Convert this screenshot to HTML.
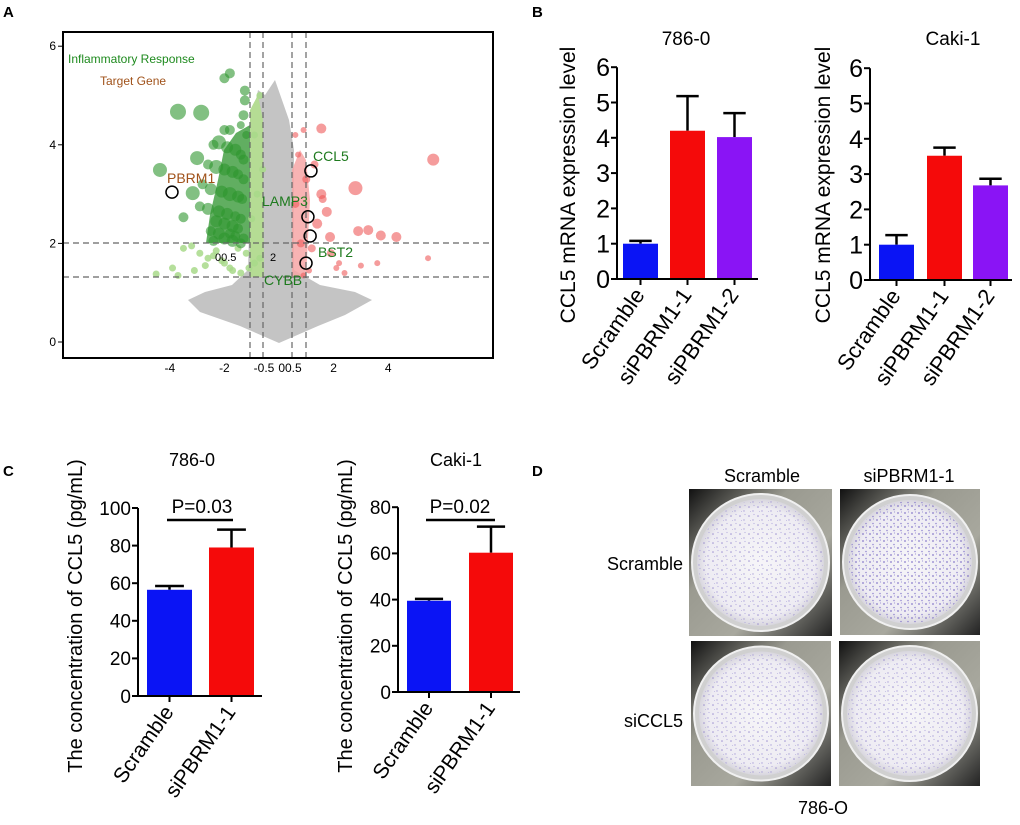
<!DOCTYPE html>
<html><head><meta charset="utf-8"><style>
html,body{margin:0;padding:0;background:#fff;}
svg{display:block;font-family:"Liberation Sans",Arial,sans-serif;}
</style></head><body>
<svg id="fig" width="1020" height="825" viewBox="0 0 1020 825" xmlns="http://www.w3.org/2000/svg">
<defs>
<radialGradient id="dish" cx="50%" cy="50%" r="50%"><stop offset="0" stop-color="#f6f5f8"/><stop offset="0.85" stop-color="#eeecf3"/><stop offset="1" stop-color="#d8d6de"/></radialGradient>
<linearGradient id="metal" x1="0" y1="0" x2="1" y2="1"><stop offset="0" stop-color="#111"/><stop offset="0.35" stop-color="#9a9a90"/><stop offset="0.65" stop-color="#a8a89e"/><stop offset="1" stop-color="#222"/></linearGradient>
<pattern id="cells" width="9" height="9" patternUnits="userSpaceOnUse">
<circle cx="2" cy="3" r="0.8" fill="#8a7cc8"/><circle cx="6" cy="7" r="0.7" fill="#9a8ed2"/><circle cx="7" cy="1.5" r="0.6" fill="#a79ed8"/><circle cx="3.5" cy="7.5" r="0.5" fill="#b0a8dc"/>
</pattern>
<pattern id="cells2" width="7" height="7" patternUnits="userSpaceOnUse">
<circle cx="2" cy="2" r="0.9" fill="#6f5fc0"/><circle cx="5" cy="5.5" r="0.8" fill="#7e70c8"/><circle cx="5.5" cy="1" r="0.6" fill="#9488d2"/>
</pattern>
</defs>
<g id="panelA"></g>
<g id="panelB"></g>
<g id="panelC"></g>
<g id="panelD"></g>
</svg>
<script>
// Panel A data
const greenFC = [-3.7,-2.85,-4.36,-3.0,-3.16,-3.5,-2.0,-1.8,-1.25,-1.25,-1.3,-1.4,-2.0,-1.8,-1.2,-2.4,-2.2,-1.9,-1.6,-1.4,-1.3,-2.6,-2.3,-2.0,-1.7,-1.5,-1.3,-2.8,-2.5,-2.1,-1.8,-1.5,-1.35,-2.9,-2.6,-2.2,-1.9,-1.6,-1.4,-2.3,-2.0,-1.7,-1.5,-2.5,-2.2,-1.8,-1.6,-1.3,-2.4,-2.0,-1.7,-1.4];
const greenP  = [4.67,4.65,3.49,3.73,3.02,2.53,5.35,5.45,5.1,4.9,4.6,4.4,4.3,4.3,4.2,4.0,4.05,3.95,3.9,3.8,3.7,3.6,3.55,3.5,3.45,3.4,3.3,3.2,3.1,3.05,3.0,2.95,2.9,2.75,2.7,2.65,2.6,2.55,2.5,2.45,2.4,2.35,2.3,2.25,2.2,2.2,2.15,2.1,2.05,2.1,2.05,2.0];
const greenSize = [8,8,7,7,7,5,5,5,5,5,5,4,5,5,4,5,7,6,6,5,5,5,7,6,6,5,5,5,6,6,7,6,5,5,6,6,6,5,5,6,6,6,5,5,6,5,5,5,5,6,6,5];
const lgFC = [-4.5,-3.9,-3.5,-3.2,-2.9,-2.6,-2.3,-2.0,-1.7,-1.4,-3.7,-3.1,-2.7,-2.4,-2.1,-1.8,-1.5,-1.2,-1.1,-0.9,-0.7,-1.0,-0.8,-0.6,-0.9,-0.7];
const lgP   = [1.38,1.5,1.9,1.95,1.8,1.7,1.85,1.6,1.45,1.4,1.35,1.45,1.55,1.75,1.65,1.5,1.9,1.8,1.5,1.6,1.7,2.5,3.0,3.5,4.2,5.0];
const redFC = [1.55,5.65,2.8,1.55,1.75,2.9,3.27,3.73,4.3,1.87,5.46,3.6,0.6,0.9,1.3,1.6,2.1,2.4,0.7,1.0,1.4,0.8,1.2,1.9,2.2,0.6,1.1,3.0,0.9];
const redP  = [4.33,3.7,3.12,3.0,2.64,2.25,2.27,2.16,2.13,2.13,1.7,1.6,4.2,4.3,3.6,2.9,1.5,1.4,3.8,3.3,2.4,2.0,1.9,1.8,1.6,2.8,1.45,1.55,1.35];
const redSize = [5,6,7,5,5,5,5,5,5,5,3,3,3,3,4,4,3,3,3,4,5,4,4,4,3,4,3,3,3];
const geneNames = ["PBRM1","CCL5","LAMP3","BST2","CYBB"];
const geneFC = [-3.92,1.17,1.06,1.14,0.99];
const geneP = [3.04,3.47,2.54,2.15,1.6];
const xTicksA = [-4,-2,2,4];
const yTicksA = [0,2,4,6];
// Panel B data
const catsB = ["Scramble","siPBRM1-1","siPBRM1-2"];
const vals786B = [1.0,4.2,4.02];
const err786B = [0.08,0.98,0.68];
const valsCakiB = [1.0,3.52,2.68];
const errCakiB = [0.27,0.23,0.19];
const yTicksB = [0,1,2,3,4,5,6];
// Panel C data
const catsC = ["Scramble","siPBRM1-1"];
const vals786C = [56.5,79];
const err786C = [2,9.5];
const valsCakiC = [39.5,60.3];
const errCakiC = [0.8,11.3];
const yTicks786C = [0,20,40,60,80,100];
const yTicksCakiC = [0,20,40,60,80];

const NS="http://www.w3.org/2000/svg";
function mk(parent,tag,attrs,text){const e=document.createElementNS(NS,tag);for(const k in attrs)e.setAttribute(k,attrs[k]);if(text!==undefined)e.textContent=text;parent.appendChild(e);return e;}

// ---------- Panel A ----------
const A=document.getElementById('panelA');
const ax=v=>279+v*27.3, ay=v=>342-v*49.3;
let t=mk(A,'text',{x:3,y:17,'font-size':15,'font-weight':'bold'},'A');

let cloud=mk(A,'path',{d:'M279 343 L240 326 L200 312 L188 300 L205 292 L232 285 L248 270 L252 120 L258 90 L265 95 L275 80 L282 100 L289 120 L294 150 L294 270 L320 285 L355 292 L372 300 L345 315 L318 326 Z',fill:'#c4c4c4'});

let lgband=mk(A,'path',{d:'M250 277 L250 110 L258 95 L263 120 L264 277 Z',fill:'#b5dc94'});

let rband=mk(A,'path',{d:'M292 277 L292 170 L300 150 L306 160 L310 200 L306 277 Z',fill:'#f7a6a6',opacity:0.85});

let gband=mk(A,'path',{d:'M206 243 L210 215 L218 180 L224 150 L236 133 L250 125 L250 243 Z',fill:'#3a9a3a',opacity:0.8});

lgFC.forEach((f,i)=>{const c=mk(A,'circle',{cx:ax(f),cy:ay(lgP[i]),r:3.5,fill:'#a8d98a',opacity:0.85});
});
greenFC.forEach((f,i)=>{const c=mk(A,'circle',{cx:ax(f),cy:ay(greenP[i]),r:greenSize[i],fill:'#2f962f',opacity:0.6});
});
redFC.forEach((f,i)=>{const c=mk(A,'circle',{cx:ax(f),cy:ay(redP[i]),r:redSize[i],fill:'#ef5a5a',opacity:0.6});
});
[250,263,292,306].forEach(x=>{const l=mk(A,'line',{x1:x,y1:32,x2:x,y2:358,stroke:'#666','stroke-dasharray':'6,4','stroke-width':1.2});
});
[243,277].forEach(y=>{const l=mk(A,'line',{x1:63,y1:y,x2:493,y2:y,stroke:'#666','stroke-dasharray':'6,4','stroke-width':1.2});
});
const labPos=[[167,183,'#a0521a'],[313,161,'#1e7a1e'],[262,206,'#1e7a1e'],[318,257,'#1e7a1e'],[264,285,'#1e7a1e']];
geneNames.forEach((g,i)=>{const c=mk(A,'circle',{cx:ax(geneFC[i]),cy:ay(geneP[i]),r:6,fill:'none',stroke:'#000','stroke-width':1.5});

const tx=mk(A,'text',{x:labPos[i][0],y:labPos[i][1],'font-size':14,fill:labPos[i][2]},g);
});
let tt=mk(A,'text',{x:215,y:261,'font-size':11},'00.5');
tt=mk(A,'text',{x:270,y:261,'font-size':11},'2');
tt=mk(A,'text',{x:68,y:63,'font-size':12,fill:'#1e8a1e'},'Inflammatory Response');
tt=mk(A,'text',{x:100,y:85,'font-size':12,fill:'#a0521a'},'Target Gene');
let box=mk(A,'rect',{x:63,y:32,width:430,height:326,fill:'none',stroke:'#000','stroke-width':2});

yTicksA.forEach(v=>{const l=mk(A,'line',{x1:58,y1:ay(v),x2:63,y2:ay(v),stroke:'#000'});
const tx=mk(A,'text',{x:56,y:ay(v)+4,'font-size':12,'text-anchor':'end'},String(v));});
xTicksA.forEach(v=>{const tx=mk(A,'text',{x:ax(v),y:372,'font-size':12,'text-anchor':'middle'},String(v));});
tt=mk(A,'text',{x:264,y:372,'font-size':12,'text-anchor':'middle'},'-0.5');
tt=mk(A,'text',{x:290,y:372,'font-size':12,'text-anchor':'middle'},'00.5');

// ---------- bar chart helper ----------
const colors=['#0a14f5','#f50a0a','#8a14f5'];
function bars(G,o){
  const sy=v=>o.y0-v*o.k;
  const title=mk(G,'text',{x:o.tx,y:o.ty,'font-size':o.tfs,'text-anchor':'middle'},o.title);
  
  o.vals.forEach((v,i)=>{
    const x=o.bx[i], cx=x+o.bw/2;
    const e1=mk(G,'line',{x1:cx,y1:sy(v),x2:cx,y2:sy(v+o.err[i]),stroke:'#000','stroke-width':2.5});
    
    const e2=mk(G,'line',{x1:cx-o.bw*0.32,y1:sy(v+o.err[i]),x2:cx+o.bw*0.32,y2:sy(v+o.err[i]),stroke:'#000','stroke-width':2.5});
    
    const r=mk(G,'rect',{x:x,y:sy(v),width:o.bw,height:v*o.k,fill:colors[i]});
    
    const tk=mk(G,'line',{x1:cx,y1:o.y0,x2:cx,y2:o.y0+6,stroke:'#000','stroke-width':2});
    
    const lx=cx+5, ly=o.y0+16;
    const lb=mk(G,'text',{x:lx,y:ly,'font-size':o.cfs,'text-anchor':'end',transform:`rotate(-55 ${lx} ${ly})`},o.cats[i]);
    
  });
  const ya=mk(G,'line',{x1:o.ax,y1:sy(o.ticks[o.ticks.length-1]),x2:o.ax,y2:o.y0,stroke:'#000','stroke-width':2});
  
  const xa=mk(G,'line',{x1:o.ax,y1:o.y0,x2:o.xend,y2:o.y0,stroke:'#000','stroke-width':2});
  
  o.ticks.forEach(v=>{const l=mk(G,'line',{x1:o.ax-6,y1:sy(v),x2:o.ax,y2:sy(v),stroke:'#000','stroke-width':2});
    
    const tx=mk(G,'text',{x:o.ax-7,y:sy(v)+o.yfs*0.36,'font-size':o.yfs,'text-anchor':'end'},String(v));
    });
  const yt=mk(G,'text',{x:o.ylx,y:o.yly,'font-size':o.ylfs,'text-anchor':'middle',transform:`rotate(-90 ${o.ylx} ${o.yly})`},o.ylab);
  
}
const B=document.getElementById('panelB');
t=mk(B,'text',{x:532,y:17,'font-size':15,'font-weight':'bold'},'B');
bars(B,{title:'786-0',tx:686,ty:45,tfs:19,vals:vals786B,err:err786B,cats:catsB,bx:[623,670,717],bw:35,y0:279,k:35.3,ax:617,xend:758,ticks:yTicksB,yfs:25,cfs:22,ylab:'CCL5 mRNA expression level',ylx:575,yly:185,ylfs:21});
bars(B,{title:'Caki-1',tx:953,ty:45,tfs:19,vals:valsCakiB,err:errCakiB,cats:catsB,bx:[879,927,973],bw:35,y0:280,k:35.3,ax:870,xend:1012,ticks:yTicksB,yfs:25,cfs:22,ylab:'CCL5 mRNA expression level',ylx:830,yly:185,ylfs:21});
const C=document.getElementById('panelC');
t=mk(C,'text',{x:3,y:476,'font-size':15,'font-weight':'bold'},'C');
bars(C,{title:'786-0',tx:192,ty:466,tfs:18,vals:vals786C,err:err786C,cats:catsC,bx:[147,209],bw:45,y0:696,k:1.88,ax:138,xend:262,ticks:yTicks786C,yfs:19,cfs:21,ylab:'The concentration of CCL5 (pg/mL)',ylx:82,yly:616,ylfs:20});
bars(C,{title:'Caki-1',tx:456,ty:466,tfs:18,vals:valsCakiC,err:errCakiC,cats:catsC,bx:[407,469],bw:44,y0:692,k:2.31,ax:398,xend:520,ticks:yTicksCakiC,yfs:19,cfs:21,ylab:'The concentration of CCL5 (pg/mL)',ylx:352,yly:616,ylfs:20});
[[167,233,202,'P=0.03'],[426,495,460,'P=0.02']].forEach(p=>{
  const l=mk(C,'line',{x1:p[0],y1:520,x2:p[1],y2:520,stroke:'#000','stroke-width':2.5});
  const tx=mk(C,'text',{x:p[2],y:513,'font-size':19,'text-anchor':'middle'},p[3]);});

// ---------- Panel D ----------
const D=document.getElementById('panelD');
t=mk(D,'text',{x:532,y:476,'font-size':15,'font-weight':'bold'},'D');
[[689,489,143,147,'cells'],[840,489,140,146,'cells2'],[691,641,140,145,'cells'],[839,641,141,145,'cells']].forEach((w,i)=>{
  const r=mk(D,'rect',{x:w[0],y:w[1],width:w[2],height:w[3],fill:'url(#metal)'});
  const cx=w[0]+w[2]/2, cy=w[1]+w[3]/2, R=Math.min(w[2],w[3])/2-3;
  const c=mk(D,'circle',{cx:cx,cy:cy,r:R,fill:'#d0d0d0',stroke:'#f0f0f0','stroke-width':2});
  
  const c2=mk(D,'circle',{cx:cx,cy:cy,r:R-5,fill:'url(#dish)'});
  
  const c3=mk(D,'circle',{cx:cx,cy:cy,r:R-6,fill:'url(#'+w[4]+')',opacity:0.8});
  
});
[[762,482,'middle','Scramble'],[909,482,'middle','siPBRM1-1'],[683,570,'end','Scramble'],[683,727,'end','siCCL5'],[823,814,'middle','786-O']].forEach(l=>{
  const tx=mk(D,'text',{x:l[0],y:l[1],'font-size':18,'text-anchor':l[2]},l[3]);});
</script>
</body></html>
